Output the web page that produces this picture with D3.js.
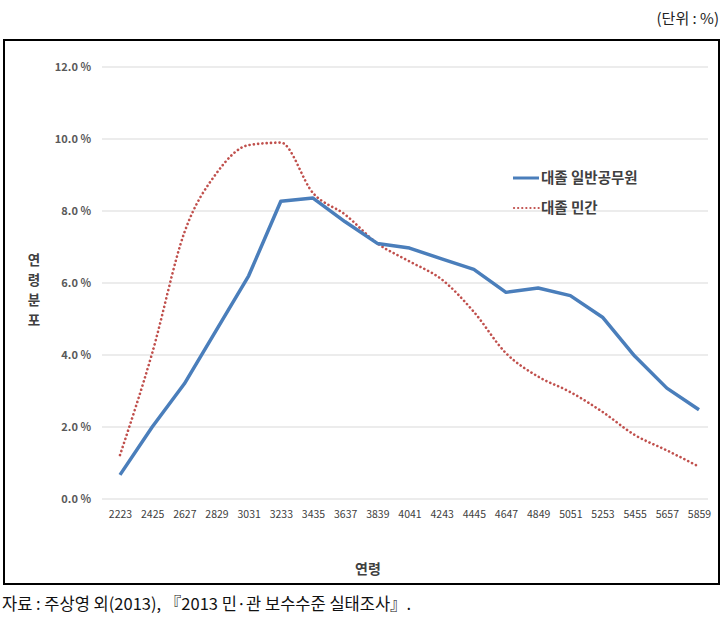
<!DOCTYPE html>
<html>
<head>
<meta charset="utf-8">
<script src="https://cdn.jsdelivr.net/npm/d3@7.9.0/dist/d3.min.js"></script>
<style>
  body { margin: 0; background: #fff; }
  svg { display: block; }
</style>
</head>
<body>
<svg id="chart" width="727" height="619"></svg>
<script>
// age groups (x categories)
const ages = ['2223', '2425', '2627', '2829', '3031', '3233', '3435', '3637', '3839', '4041',
  '4243', '4445', '4647', '4849', '5051', '5253', '5455', '5657', '5859'];
// 대졸 일반공무원
const publicValues = [0.67, 2.0, 3.2, 4.7, 6.2, 8.27, 8.36, 7.7, 7.1, 6.97,
  6.67, 6.38, 5.74, 5.86, 5.65, 5.05, 3.97, 3.08, 2.48];
// 대졸 민간
const privateValues = [1.22, 4.05, 7.4, 9.05, 9.83, 9.9, 8.5, 7.9, 7.1, 6.6,
  6.1, 5.2, 4.05, 3.4, 2.97, 2.42, 1.78, 1.35, 0.9];
const yTicks = [0, 2, 4, 6, 8, 10, 12];
const seriesNames = ['대졸 일반공무원', '대졸 민간'];

const svg = d3.select('#chart');
const font = "'Noto Sans CJK KR', 'Noto Sans', sans-serif";

// outer frame
svg.append('rect')
  .attr('x', 4).attr('y', 40).attr('width', 715).attr('height', 544)
  .attr('fill', 'none').attr('stroke', '#000').attr('stroke-width', 2);

let x = d3.scalePoint().domain(ages).range([120, 699]);
let y = d3.scaleLinear().domain([0, 12]).range([499, 67]);

// gridlines
svg.append('g')
  .selectAll('line')
  .data(yTicks)
  .join('line')
  .attr('x1', 102).attr('x2', 708)
  .attr('y1', d => y(d)).attr('y2', d => y(d))
  .attr('stroke', '#d9d9d9').attr('stroke-width', 1);

// y axis labels
let yAxis = d3.axisLeft(y).tickValues(yTicks).tickSize(0).tickPadding(0)
  .tickFormat(d => d.toFixed(1) + ' %');
svg.append('g')
  .attr('transform', 'translate(91,0)')
  .call(yAxis)
  .call(g => g.select('.domain').remove())
  .selectAll('text')
  .attr('font-family', font).attr('font-size', 11).attr('font-weight', 'bold')
  .attr('fill', '#595959');

// x axis labels
let xAxis = d3.axisBottom(x).tickSize(0).tickPadding(0);
svg.append('g')
  .attr('transform', 'translate(0,511)')
  .call(xAxis)
  .call(g => g.select('.domain').remove())
  .selectAll('text')
  .attr('font-family', font).attr('font-size', 10.5)
  .attr('fill', '#404040');

// lines
let blueLine = d3.line().x((d, i) => x(ages[i])).y(d => y(d));
let redLine = d3.line().x((d, i) => x(ages[i])).y(d => y(d)).curve(d3.curveMonotoneX);

svg.append('path')
  .datum(privateValues)
  .attr('d', redLine)
  .attr('fill', 'none')
  .attr('stroke', '#c0504d')
  .attr('stroke-width', 2.6)
  .attr('stroke-linecap', 'round')
  .attr('stroke-dasharray', '0.1,4.2');

svg.append('path')
  .datum(publicValues)
  .attr('d', blueLine)
  .attr('fill', 'none')
  .attr('stroke', '#4a7ebb')
  .attr('stroke-width', 3.5)
  .attr('stroke-linejoin', 'round');

// legend
let legend = svg.append('g');
legend.append('line')
  .attr('x1', 513).attr('x2', 539).attr('y1', 178).attr('y2', 178)
  .attr('stroke', '#4a7ebb').attr('stroke-width', 3);
legend.append('line')
  .attr('x1', 514).attr('x2', 539).attr('y1', 208).attr('y2', 208)
  .attr('stroke', '#c0504d').attr('stroke-width', 2.2)
  .attr('stroke-linecap', 'round').attr('stroke-dasharray', '0.1,4');
seriesNames.forEach((name, i) => {
  legend.append('text')
    .attr('x', 541).attr('y', 183 + i * 30)
    .attr('font-family', font).attr('font-size', 14.5).attr('font-weight', 'bold')
    .attr('fill', '#404040')
    .text(name);
});

// axis titles (y title stacked vertically)
svg.append('g')
  .selectAll('text')
  .data('연령분포'.split(''))
  .join('text')
  .attr('x', 34).attr('y', (d, i) => 265 + i * 20)
  .attr('text-anchor', 'middle')
  .attr('font-family', font).attr('font-size', 13.5).attr('font-weight', 'bold')
  .attr('fill', '#404040')
  .text(d => d);

svg.append('text')
  .attr('x', 368).attr('y', 574)
  .attr('text-anchor', 'middle')
  .attr('font-family', font).attr('font-size', 14).attr('font-weight', 'bold')
  .attr('fill', '#404040')
  .text('연령');

// unit and source
svg.append('text')
  .attr('x', 719).attr('y', 24)
  .attr('text-anchor', 'end')
  .attr('font-family', font).attr('font-size', 15)
  .attr('fill', '#222')
  .text('(단위 : %)');

svg.append('text')
  .attr('x', 2).attr('y', 610)
  .attr('font-family', font).attr('font-size', 16.5)
  .attr('fill', '#111')
  .text('자료 : 주상영 외(2013), 『2013 민·관 보수수준 실태조사』.');
</script>
</body>
</html>
